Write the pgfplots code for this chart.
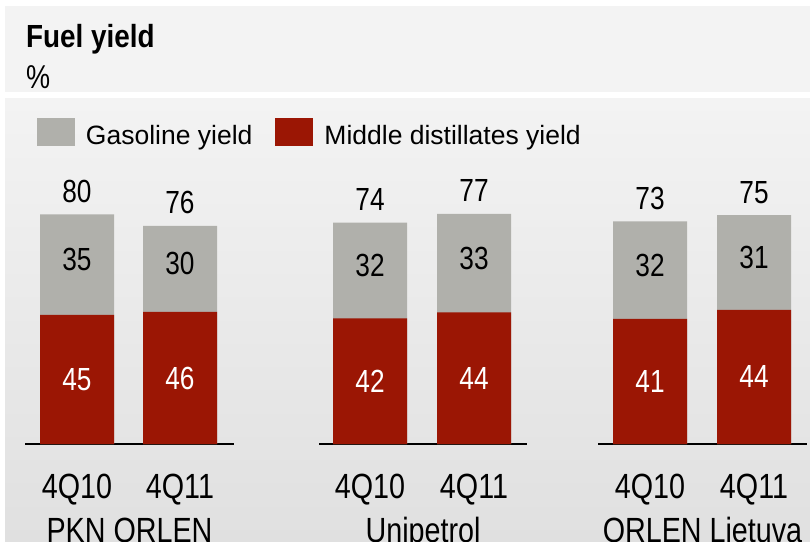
\documentclass[border=0pt]{standalone}
\usepackage{pgfplots}
\pgfplotsset{compat=1.18}
\usepackage{fontspec}
\setmainfont{Liberation Sans}
\newfontfamily\narrowfont{Liberation Sans}[FakeStretch=0.82]
\newfontfamily\titlefamily{Liberation Sans}[FakeStretch=0.87]
\definecolor{graybar}{RGB}{176,176,171}
\definecolor{redbar}{RGB}{155,22,4}
\definecolor{panel}{RGB}{243,243,243}
\definecolor{panelbot}{RGB}{224,224,224}
\newcommand\numfont{\narrowfont\fontsize{32pt}{38pt}\selectfont}
\newcommand\catfont{\narrowfont\fontsize{35pt}{42pt}\selectfont}
\newcommand\legfont{\fontsize{26.5pt}{32pt}\selectfont}
\newcommand\titlefont{\titlefamily\bfseries\fontsize{32pt}{38pt}\selectfont}
\newcommand\pctfont{\narrowfont\fontsize{33pt}{38pt}\selectfont}
\pgfplotsset{
  groupax/.style={
    anchor=south west, scale only axis,
    axis x line=bottom, axis y line=none,
    axis line style={-, line width=2pt, black},
    ymin=0, ymax=100, clip=false,
    tick style={draw=none}, major tick length=0pt,
    xticklabel style={font=\catfont, anchor=base, yshift=-54pt},
    xlabel style={font=\catfont, at={(axis description cs:0.5,0)}, anchor=base, yshift=-98pt},
  },
  barstyle/.style={ybar, bar width=74, bar shift=0pt, draw=none, fill=#1,
    legend image code/.code={\fill[fill=#1, draw=none] (0pt,-9.4pt) rectangle (38pt,18.6pt);}},
  seglabel/.style={draw=none, mark=none, nodes near coords, point meta=explicit symbolic,
    nodes near coords align={center},
    every node near coord/.append style={font=\numfont, anchor=center, text=#1}},
  totlabel/.style={draw=none, mark=none, nodes near coords, point meta=explicit symbolic,
    every node near coord/.append style={font=\numfont, anchor=base, yshift=12pt, text=black}},
}
\begin{document}
\begin{tikzpicture}[x=1pt,y=1pt]
\fill[white] (0,0) rectangle (810,541);
\fill[panel] (5,449) rectangle (810,535);
\shade[top color=panel, bottom color=panelbot] (5,0) rectangle (810,442);
\node[anchor=base west, inner sep=0pt, font=\titlefont] at (26,493) {Fuel yield};
\node[anchor=base west, inner sep=0pt, font=\pctfont] at (26,452) {\%};

% PKN ORLEN
\begin{axis}[groupax, at={(25pt,97pt)}, width=209pt, height=287pt,
  xmin=25, xmax=234, xtick={77,180}, xticklabels={4Q10,4Q11}, xlabel={PKN ORLEN},
  legend style={draw=none, fill=none, inner sep=0pt, outer sep=0pt,
    at={(axis description cs:0.0574,1.0836)}, anchor=west, legend columns=2,
    font=\legfont,
    /tikz/every odd column/.append style={column sep=9pt},
    /tikz/every even column/.append style={column sep=21pt}},
  legend cell align=left]
\addplot[barstyle=graybar] coordinates {(77,80) (180,76)};
\addlegendentry{Gasoline yield}
\addplot[barstyle=redbar] coordinates {(77,45) (180,46)};
\addlegendentry{Middle distillates yield}
\addplot[seglabel=white, forget plot] coordinates {(77,22.5)[45] (180,23)[46]};
\addplot[seglabel=black, forget plot, every node near coord/.append style={yshift=5pt}] coordinates {(77,62.5)[35] (180,61)[30]};
\addplot[totlabel, forget plot] coordinates {(77,80)[80] (180,76)[76]};
\end{axis}

% Unipetrol
\begin{axis}[groupax, at={(319pt,97pt)}, width=208pt, height=299pt,
  xmin=319, xmax=527, xtick={370,474}, xticklabels={4Q10,4Q11}, xlabel={Unipetrol}]
\addplot[barstyle=graybar] coordinates {(370,74) (474,77)};
\addplot[barstyle=redbar] coordinates {(370,42) (474,44)};
\addplot[seglabel=white] coordinates {(370,21)[42] (474,22)[44]};
\addplot[seglabel=black, every node near coord/.append style={yshift=5pt}] coordinates {(370,58)[32] (474,60.5)[33]};
\addplot[totlabel] coordinates {(370,74)[74] (474,77)[77]};
\end{axis}

% ORLEN Lietuva
\begin{axis}[groupax, at={(598pt,97pt)}, width=209pt, height=305pt,
  xmin=598, xmax=807, xtick={650,754}, xticklabels={4Q10,4Q11}, xlabel={ORLEN Lietuva}]
\addplot[barstyle=graybar] coordinates {(650,73) (754,75)};
\addplot[barstyle=redbar] coordinates {(650,41) (754,44)};
\addplot[seglabel=white] coordinates {(650,20.5)[41] (754,22)[44]};
\addplot[seglabel=black, every node near coord/.append style={yshift=5pt}] coordinates {(650,57)[32] (754,59.5)[31]};
\addplot[totlabel] coordinates {(650,73)[73] (754,75)[75]};
\end{axis}
\pgfresetboundingbox
\useasboundingbox (0,0) rectangle (810,541);
\end{tikzpicture}
\end{document}
